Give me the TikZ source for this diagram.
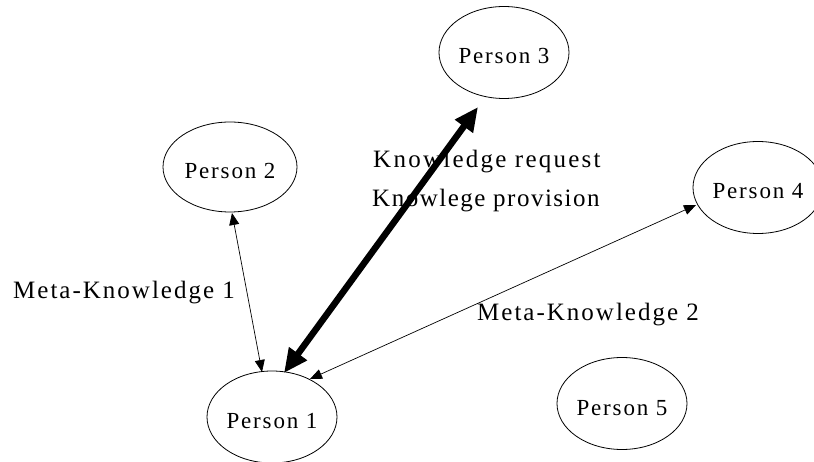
\documentclass[tikz,border=0pt]{standalone}
\usepackage{fontspec}
\setmainfont{Liberation Serif}
\usetikzlibrary{shapes.geometric,arrows.meta}
\begin{document}
\begin{tikzpicture}[x=1pt,y=-1pt,
  person/.style={draw,ellipse,line width=0.8pt,minimum width=130pt,minimum height=92pt,inner sep=0pt,
    text height=23pt,text depth=0pt,
    font=\fontsize{23}{27}\selectfont\addfontfeature{LetterSpace=8}},
  lbl/.style={inner sep=0pt,anchor=base west},
  lfont/.style={font=\fontsize{25}{30}\selectfont\addfontfeature{LetterSpace=#1}},
  thin/.style={line width=0.7pt,{Triangle[length=12pt,width=10pt]}-{Triangle[length=12pt,width=10pt]}},
  thick/.style={line width=6.5pt,{Triangle[length=24pt,width=21pt]}-{Triangle[length=24pt,width=21pt]}}]
\useasboundingbox (0,0) rectangle (814,462);
\fill[white] (0,0) rectangle (814,462);
\node[person] (p3) at (504,52.5) {Person 3};
\node[person,minimum width=134pt,minimum height=90pt] (p2) at (230,167) {Person 2};
\node[person] (p4) at (758,187.5) {Person 4};
\node[person] (p1) at (272,417) {Person 1};
\node[person] (p5) at (622,403.5) {Person 5};
\coordinate (a1) at (232,213);
\coordinate (b1) at (262,372);
\draw[thin] (a1) -- (b1);
\coordinate (a2) at (478,107);
\coordinate (b2) at (284,373);
\draw[thick] (a2) -- (b2);
\coordinate (a3) at (696,205);
\coordinate (b3) at (310,379);
\draw[thin] (a3) -- (b3);
\node[lbl,lfont=9] (kr) at (373,168) {Knowledge request};
\node[lbl,lfont=6] (kp) at (372,207) {Knowlege provision};
\node[lbl,lfont=8] (m1) at (13,299) {Meta-Knowledge 1};
\node[lbl,lfont=8] (m2) at (477,321) {Meta-Knowledge 2};
\end{tikzpicture}
\end{document}
